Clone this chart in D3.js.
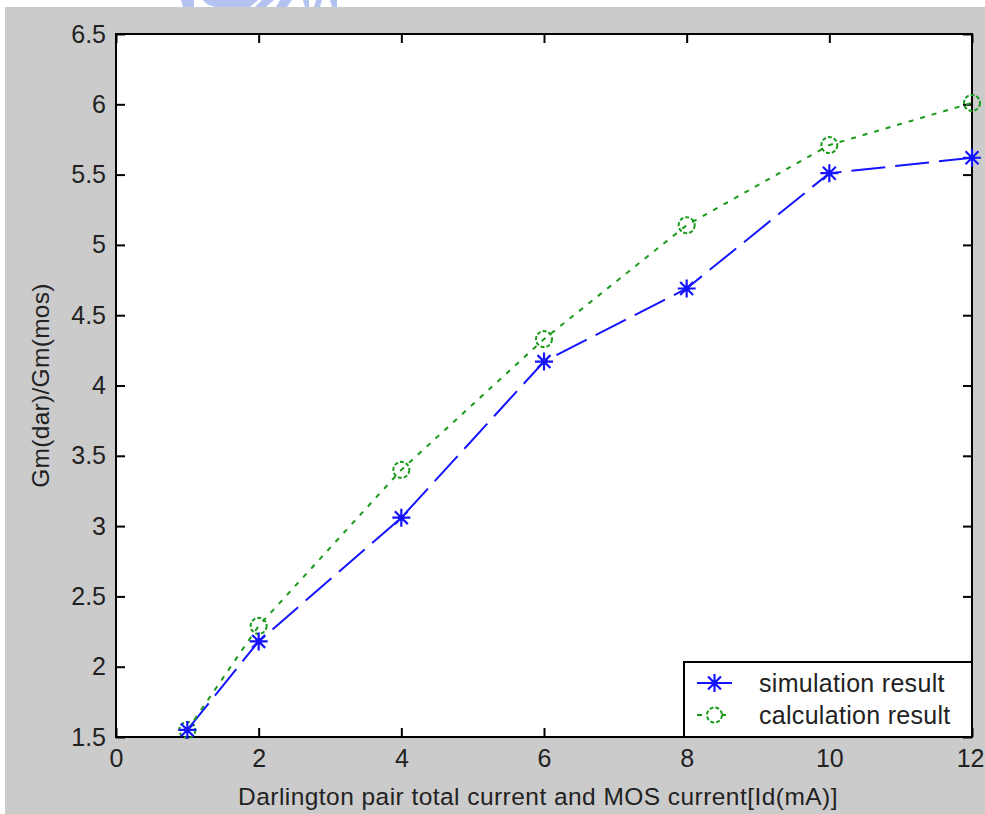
<!DOCTYPE html>
<html>
<head>
<meta charset="utf-8">
<script src="https://cdn.jsdelivr.net/npm/d3@7"></script>
<style>
  html, body { margin: 0; padding: 0; background: #fff; }
  svg { display: block; }
  text { font-family: "Liberation Sans", Arial, sans-serif; fill: #222; }
</style>
</head>
<body>
<script>
// data
const currents = [1, 2, 4, 6, 8, 10, 12];
const simulation = [1.55, 2.18, 3.06, 4.17, 4.69, 5.51, 5.62];
const calculation = [1.55, 2.29, 3.40, 4.33, 5.14, 5.71, 6.01];
const xTicks = [0, 2, 4, 6, 8, 10, 12];
const yTicks = [1.5, 2, 2.5, 3, 3.5, 4, 4.5, 5, 5.5, 6, 6.5];
const seriesNames = ["simulation result", "calculation result"];

const width = 985, height = 814;
const margin = {left: 116, right: 13, top: 34, bottom: 77};

const svg = d3.select("body").append("svg")
    .attr("width", width)
    .attr("height", height);

// gray figure background, white strips at top/left
svg.append("rect")
    .attr("x", 5).attr("y", 7)
    .attr("width", width - 5).attr("height", height - 7)
    .attr("fill", "#cbcbcb");

// faint cut-off watermark above the figure
const wm = svg.append("g").attr("fill", "#b4c2f2");
wm.append("path").attr("d", "M181,0H194V7H183Z");
wm.append("path").attr("d", "M203,0H258L250,7H215Q206,5 203,0Z");
wm.append("path").attr("d", "M262,0H274L266,7H255Z");
wm.append("path").attr("d", "M280,0H292L287,7H276Z");
wm.append("path").attr("d", "M303,0H309V7H305Z M316,0H322L320,7H314Z");
wm.append("path").attr("d", "M330,0H337V7H332Z");

const x = d3.scaleLinear().domain([0, 12]).range([margin.left, width - margin.right]);
const y = d3.scaleLinear().domain([1.5, 6.5]).range([height - margin.bottom, margin.top]);

svg.append("rect")
    .attr("x", x(0)).attr("y", y(6.5))
    .attr("width", x(12) - x(0)).attr("height", y(1.5) - y(6.5))
    .attr("fill", "#fff");

const tickLen = 9;
function styleAxis(g, showLabels) {
    g.select(".domain").remove();
    g.selectAll(".tick line").attr("stroke", "#000").attr("stroke-width", 2);
    g.selectAll(".tick text").attr("font-size", 25)
        .style("display", showLabels ? null : "none");
}

svg.append("g")
    .attr("transform", `translate(0,${y(1.5)})`)
    .call(d3.axisBottom(x).tickValues(xTicks).tickFormat(d3.format("d"))
        .tickSizeInner(-tickLen).tickSizeOuter(0).tickPadding(12))
    .call(g => styleAxis(g, true))
    .call(g => g.selectAll(".tick text").filter(d => d === 12)
        .attr("text-anchor", "end").attr("x", 12));

svg.append("g")
    .attr("transform", `translate(0,${y(6.5)})`)
    .call(d3.axisTop(x).tickValues(xTicks).tickSizeInner(-tickLen).tickSizeOuter(0))
    .call(g => styleAxis(g, false));

svg.append("g")
    .attr("transform", `translate(${x(0)},0)`)
    .call(d3.axisLeft(y).tickValues(yTicks).tickFormat(d => String(d))
        .tickSizeInner(-tickLen).tickSizeOuter(0).tickPadding(10))
    .call(g => styleAxis(g, true));

svg.append("g")
    .attr("transform", `translate(${x(12)},0)`)
    .call(d3.axisRight(y).tickValues(yTicks).tickSizeInner(-tickLen).tickSizeOuter(0))
    .call(g => styleAxis(g, false));

// axes box
svg.append("rect")
    .attr("x", x(0)).attr("y", y(6.5))
    .attr("width", x(12) - x(0)).attr("height", y(1.5) - y(6.5))
    .attr("fill", "none").attr("stroke", "#000").attr("stroke-width", 2);

const line = d3.line().x(d => x(d[0])).y(d => y(d[1]));
const simPts = currents.map((c, i) => [c, simulation[i]]);
const calPts = currents.map((c, i) => [c, calculation[i]]);

const blue = "#1414ff", green = "#1a9a1a";

svg.append("path").datum(simPts)
    .attr("d", line).attr("fill", "none")
    .attr("stroke", blue).attr("stroke-width", 2)
    .attr("stroke-dasharray", "34,10");

svg.append("path").datum(calPts)
    .attr("d", line).attr("fill", "none")
    .attr("stroke", green).attr("stroke-width", 2)
    .attr("stroke-dasharray", "5,7");

function star(g, cx, cy, r) {
    const a = r * 0.72;
    g.append("path")
        .attr("d", `M${cx - r},${cy}H${cx + r}M${cx},${cy - r}V${cy + r}` +
            `M${cx - a},${cy - a}L${cx + a},${cy + a}M${cx - a},${cy + a}L${cx + a},${cy - a}`)
        .attr("stroke", blue).attr("stroke-width", 2.2).attr("fill", "none");
    g.append("circle").attr("cx", cx).attr("cy", cy).attr("r", 3).attr("fill", blue);
}

const markers = svg.append("g");
calPts.forEach(d => {
    markers.append("circle")
        .attr("cx", x(d[0])).attr("cy", y(d[1])).attr("r", 8)
        .attr("fill", "none").attr("stroke", green).attr("stroke-width", 2)
        .attr("stroke-dasharray", "4,2");
});
simPts.forEach(d => star(markers, x(d[0]), y(d[1]), 9));

// legend
const legend = svg.append("g");
legend.append("rect")
    .attr("x", 684).attr("y", 662)
    .attr("width", x(12) - 684).attr("height", y(1.5) - 662)
    .attr("fill", "#fff").attr("stroke", "#000").attr("stroke-width", 2);

legend.append("line")
    .attr("x1", 697).attr("x2", 732).attr("y1", 683).attr("y2", 683)
    .attr("stroke", blue).attr("stroke-width", 2);
star(legend, 714.5, 683, 9);
legend.append("line")
    .attr("x1", 697).attr("x2", 732).attr("y1", 715).attr("y2", 715)
    .attr("stroke", green).attr("stroke-width", 2).attr("stroke-dasharray", "5,7");
legend.append("circle")
    .attr("cx", 714.5).attr("cy", 715).attr("r", 7.5)
    .attr("fill", "#fff").attr("stroke", green).attr("stroke-width", 2)
    .attr("stroke-dasharray", "4,2");

legend.selectAll("text.name").data(seriesNames).join("text")
    .attr("class", "name")
    .attr("x", 759).attr("y", (d, i) => 692 + i * 32)
    .attr("font-size", 25).attr("letter-spacing", 0.3)
    .text(d => d);

// axis titles
svg.append("text")
    .attr("x", (x(0) + x(12)) / 2 - 6).attr("y", 805)
    .attr("text-anchor", "middle").attr("font-size", 24.5).attr("letter-spacing", 0.45)
    .text("Darlington pair total current and MOS current[Id(mA)]");

svg.append("text")
    .attr("transform", `translate(49,${(y(1.5) + y(6.5)) / 2}) rotate(-90)`)
    .attr("text-anchor", "middle").attr("font-size", 24.5).attr("letter-spacing", 0.3)
    .text("Gm(dar)/Gm(mos)");
</script>
</body>
</html>
